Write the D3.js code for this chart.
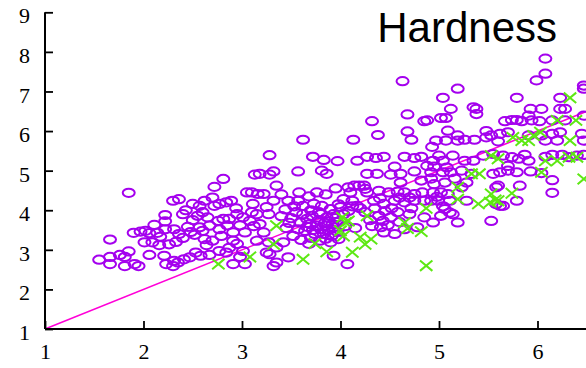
<!DOCTYPE html>
<html>
<head>
<meta charset="utf-8">
<script src="https://cdn.jsdelivr.net/npm/d3@7"></script>
<style>
  html, body { margin: 0; padding: 0; background: #fff; }
  svg { display: block; }
  .tick text { font-family: "Liberation Serif", "Times New Roman", Times, serif; font-size: 22px; fill: #000; }
  .title { font-family: "Liberation Sans", Arial, Helvetica, sans-serif; font-size: 42px; fill: #000; }
</style>
</head>
<body>
<div id="chart"></div>
<script>
// Hardness scatter: measured (x) vs predicted (y) for two sample groups,
// with the y = x reference line.

const titleText = "Hardness";
const xTicks = [1, 2, 3, 4, 5, 6];
const yTicks = [1, 2, 3, 4, 5, 6, 7, 8, 9];

// reference line y = x
const identityLine = [[1, 1], [6.5, 6.5]];

// group A (open circles)
const groupA = [
  [1.85,4.44],[1.66,3.26],[1.55,2.75],[1.66,2.82],[1.66,2.64],[1.76,2.87],[1.81,2.82],[1.85,2.96],
  [1.81,2.59],[1.91,2.64],[1.95,2.59],[2.06,2.87],[1.90,3.43],[1.97,3.46],[2.02,3.48],[2.06,3.42],
  [2.11,3.63],[2.14,3.43],[2.01,3.19],[2.09,3.19],[2.17,3.33],[2.16,3.12],[2.26,3.14],[2.22,3.88],
  [2.22,3.72],[2.22,3.52],[2.31,3.52],[2.36,3.40],[2.30,4.24],[2.36,4.28],[2.40,3.90],[2.43,4.00],
  [2.50,4.16],[2.57,4.11],[2.62,4.24],[2.55,3.86],[2.50,3.75],[2.60,3.48],[2.62,3.27],[2.64,3.12],
  [2.72,4.59],[2.81,4.79],[2.70,4.32],[2.77,4.16],[2.84,4.20],[2.89,4.24],[2.72,4.11],[2.76,3.73],
  [2.81,3.78],[2.87,3.78],[2.77,3.52],[2.79,3.35],[2.91,3.44],[3.03,3.44],[2.91,3.23],[2.84,2.93],
  [3.01,2.97],[2.98,2.82],[2.91,2.64],[3.05,4.45],[3.10,4.45],[3.11,4.16],[3.01,3.82],[3.08,3.73],
  [3.13,4.90],[2.23,2.64],[2.30,2.59],[2.35,2.68],[2.41,2.76],[2.47,2.81],[2.53,2.93],[2.58,2.85],
  [2.67,2.87],[2.77,2.97],[2.21,2.85],[2.31,2.72],[2.70,3.23],[2.57,3.57],[2.67,3.61],[2.65,3.82],
  [3.03,2.64],[2.95,3.15],[2.87,3.05],[3.12,3.60],[2.94,4.05],[2.45,3.58],[2.40,3.30],[2.52,3.38],
  [3.28,5.39],[3.72,5.35],[3.83,5.27],[3.97,5.24],[4.17,5.25],[4.27,5.35],[4.36,5.32],[4.44,5.35],
  [4.65,5.35],[4.75,5.32],[4.82,5.35],[3.32,4.98],[3.28,4.90],[3.18,4.92],[3.57,4.98],[3.81,5.00],
  [3.86,4.92],[4.14,4.62],[4.24,4.62],[4.27,4.92],[4.37,4.92],[4.51,4.90],[4.27,4.45],[4.39,4.49],
  [4.49,4.45],[4.58,4.47],[4.61,4.92],[4.75,4.98],[3.35,4.62],[3.22,4.41],[3.32,4.24],[3.58,4.45],
  [3.76,4.45],[3.47,4.24],[3.57,4.24],[3.62,4.11],[3.73,4.16],[3.81,4.11],[3.90,4.03],[4.03,4.28],
  [4.12,4.24],[4.17,4.11],[4.00,4.08],[3.93,3.90],[4.03,3.90],[3.62,3.90],[3.71,3.86],[3.80,3.90],
  [3.86,3.82],[3.59,3.69],[3.69,3.65],[3.76,3.61],[3.85,3.61],[3.93,3.57],[3.64,3.48],[3.74,3.40],
  [3.83,3.40],[3.91,3.35],[3.79,3.23],[3.90,3.19],[3.98,3.27],[3.93,2.85],[4.07,2.64],[3.47,2.81],
  [3.35,2.68],[3.32,2.59],[3.28,2.89],[3.18,3.65],[3.22,3.44],[3.15,3.23],[3.27,3.19],[3.42,3.19],
  [3.35,3.06],[3.25,2.93],[3.15,3.90],[3.27,3.90],[3.16,4.41],[4.34,4.24],[4.44,4.16],[4.55,4.24],
  [4.65,4.20],[4.75,4.24],[4.85,4.24],[4.39,3.86],[4.51,3.82],[4.43,3.73],[4.55,3.40],[4.44,3.44],
  [4.41,3.57],[4.65,4.45],[4.75,4.41],[4.83,4.45],[4.65,3.52],[4.78,3.57],[4.85,3.82],[4.61,4.70],
  [4.82,4.75],[3.70,4.00],[3.78,3.75],[3.88,3.72],[3.95,3.80],[3.66,3.58],[3.72,3.50],[3.88,3.50],
  [3.97,3.45],[4.05,3.60],[3.55,3.95],[3.50,3.80],[3.45,3.55],[3.52,3.35],[3.60,3.25],[3.68,3.15],
  [3.40,3.85],[3.40,4.40],[3.68,4.35],[3.95,4.55],[3.85,4.40],[4.10,4.45],[4.20,4.05],[4.25,3.95],
  [4.30,3.75],[4.15,3.55],[4.58,3.95],[4.70,3.90],[4.48,3.62],[4.60,3.70],[4.52,4.05],[4.72,4.05],
  [4.08,4.58],[4.19,4.62],[4.25,4.54],[4.55,5.10],[4.88,5.12],
  [3.78,3.95],[3.84,3.68],[3.92,3.65],[3.80,3.52],[3.70,3.30],[3.85,3.28],[3.96,3.70],[4.08,3.98],
  [4.12,4.10],[3.98,4.15],[3.66,3.78],[3.57,3.52],[3.48,3.68],[4.35,4.05],[4.45,3.98],[4.32,3.60],
  [4.40,4.30],[4.60,4.32],[4.70,4.32],[3.53,4.10],[3.44,4.02],[3.25,4.08],[3.10,3.95],[2.98,3.62],
  [2.85,3.62],[2.95,3.90],[2.60,3.95],[2.48,3.45],[2.33,3.20],
  [4.94,5.25],[5.04,5.25],[5.26,5.25],[5.35,5.25],[5.45,5.38],[5.55,5.42],[5.65,5.38],[5.74,5.34],
  [5.81,5.30],[5.91,5.25],[6.08,5.35],[6.32,5.34],[6.40,5.38],[4.92,4.96],[5.04,4.96],[5.12,4.96],
  [5.23,5.00],[5.33,4.92],[5.55,4.92],[5.62,4.96],[5.70,5.00],[5.79,4.96],[5.93,4.98],[6.04,4.94],
  [6.15,4.76],[6.15,4.44],[4.95,4.66],[5.06,4.70],[5.23,4.58],[5.28,4.70],[5.60,4.62],[5.82,4.62],
  [4.94,4.45],[5.02,4.45],[5.09,4.41],[4.92,4.24],[4.99,4.24],[5.11,4.24],[5.28,4.24],[5.62,4.11],
  [5.65,4.11],[5.79,4.24],[5.06,4.03],[5.11,3.94],[5.02,3.86],[5.14,3.90],[4.94,3.69],[5.19,3.69],
  [5.53,3.73],[4.95,5.10],[5.08,5.08],[5.70,5.12],[5.58,4.58],[5.58,4.16],
  [4.98,4.34],[5.04,4.10],[4.92,4.80],[5.16,4.80],[5.00,5.38],[5.14,5.38],
  [6.08,7.83],[6.08,7.45],[5.99,7.28],[5.19,7.07],[6.47,7.15],[6.47,7.07],[5.04,6.84],[5.79,6.84],
  [5.12,6.56],[5.35,6.60],[5.38,6.56],[5.38,6.43],[6.23,6.84],[5.93,6.56],[6.04,6.56],[6.23,6.56],
  [6.28,6.56],[5.91,6.39],[6.47,6.39],[4.88,6.27],[5.02,6.33],[5.07,6.33],[5.67,6.25],[5.74,6.28],
  [5.79,6.28],[5.84,6.25],[5.94,6.27],[6.02,6.25],[6.15,6.27],[6.28,6.27],[5.09,6.01],[5.19,5.89],
  [5.48,6.00],[5.70,5.97],[4.97,5.76],[5.07,5.76],[5.19,5.76],[5.26,5.78],[5.36,5.78],[5.48,5.84],
  [5.60,5.74],[5.91,5.89],[6.04,5.89],[6.15,5.93],[6.23,5.97],[6.45,5.93],[6.08,5.76],[6.20,5.76],
  [6.47,5.76],[5.87,5.40],[6.15,5.40],[6.25,5.40],[6.47,5.40],[5.62,5.93],[5.53,5.89],[4.93,5.60],
  [4.63,7.26],[4.68,6.42],[4.85,6.25],[4.32,6.25],[4.38,5.90],[4.68,5.99],[4.72,5.78],[3.62,5.78],
  [4.13,5.78]
];

// group B (crosses)
const groupB = [
  [2.76,2.64],[3.08,2.82],[3.35,3.61],[3.32,3.14],[3.62,2.76],[3.74,3.16],[3.86,2.95],[4.02,3.82],
  [4.05,3.69],[4.08,3.73],[4.00,3.48],[4.03,3.35],[4.12,2.94],[4.27,3.86],[4.20,3.32],[4.31,3.27],
  [4.25,3.14],[4.65,3.69],[4.68,3.54],[4.82,3.46],[4.87,2.60],[4.87,4.05],[5.53,5.38],[5.60,5.30],
  [6.08,5.25],[6.20,5.25],[6.32,5.34],[6.40,5.34],[6.04,4.96],[6.47,4.79],[5.33,4.92],[5.41,4.92],
  [5.19,4.58],[5.53,4.41],[5.57,4.26],[5.74,4.43],[5.40,4.16],[5.52,4.20],[5.60,4.24],[5.19,4.28],
  [6.33,6.84],[6.20,6.27],[6.39,6.27],[6.03,5.97],[5.96,5.89],[5.75,5.84],[5.84,5.76],[5.91,5.76],
  [6.33,5.76]
];

const W = 586, H = 368;
const svg = d3.select("#chart").append("svg")
  .attr("width", W).attr("height", H)
  .style("background", "#fff");

const x = d3.scaleLinear().domain([1, 6]).range([45, 537.5]);
const y = d3.scaleLinear().domain([1, 9]).range([329, 12.3]);

// y = x line
svg.append("path")
  .datum(identityLine)
  .attr("d", d3.line().x(d => x(d[0])).y(d => y(d[1])))
  .attr("fill", "none")
  .attr("stroke", "#ff00d8")
  .attr("stroke-width", 1.5);

// open circles
svg.append("g").selectAll("ellipse")
  .data(groupA).join("ellipse")
  .attr("cx", d => x(d[0]))
  .attr("cy", d => y(d[1]))
  .attr("rx", 6)
  .attr("ry", 4.1)
  .attr("fill", "none")
  .attr("stroke", "#a400ee")
  .attr("stroke-width", 2);

// crosses
const cw = 6.2, ch = 5.2;
svg.append("g").selectAll("path")
  .data(groupB).join("path")
  .attr("d", d => {
    const cx = x(d[0]), cy = y(d[1]);
    return `M${cx - cw},${cy - ch}L${cx + cw},${cy + ch}M${cx - cw},${cy + ch}L${cx + cw},${cy - ch}`;
  })
  .attr("fill", "none")
  .attr("stroke", "#5ee814")
  .attr("stroke-width", 2);

// axes
const gx = svg.append("g")
  .attr("transform", `translate(0,${y(1)})`)
  .call(d3.axisBottom(x).tickValues(xTicks).tickFormat(d3.format("d"))
    .tickSize(-8).tickSizeOuter(0).tickPadding(14));
gx.select(".domain").remove();
gx.selectAll(".tick line").attr("stroke", "#000").attr("stroke-width", 1.8);

const gy = svg.append("g")
  .attr("transform", `translate(${x(1)},0)`)
  .call(d3.axisLeft(y).tickValues(yTicks).tickFormat(d3.format("d"))
    .tickSize(-8).tickSizeOuter(0).tickPadding(15));
gy.select(".domain").remove();
gy.selectAll(".tick line").attr("stroke", "#000").attr("stroke-width", 1.8);
gy.selectAll(".tick text").attr("dy", "0.48em");

// spines
svg.append("line")
  .attr("x1", x(1)).attr("x2", W)
  .attr("y1", y(1)).attr("y2", y(1))
  .attr("stroke", "#000").attr("stroke-width", 2);
svg.append("line")
  .attr("x1", x(1)).attr("x2", x(1))
  .attr("y1", y(9)).attr("y2", y(1))
  .attr("stroke", "#000").attr("stroke-width", 2);

// title
svg.append("text")
  .attr("class", "title")
  .attr("x", 557).attr("y", 42)
  .attr("text-anchor", "end")
  .text(titleText);
</script>
</body>
</html>
